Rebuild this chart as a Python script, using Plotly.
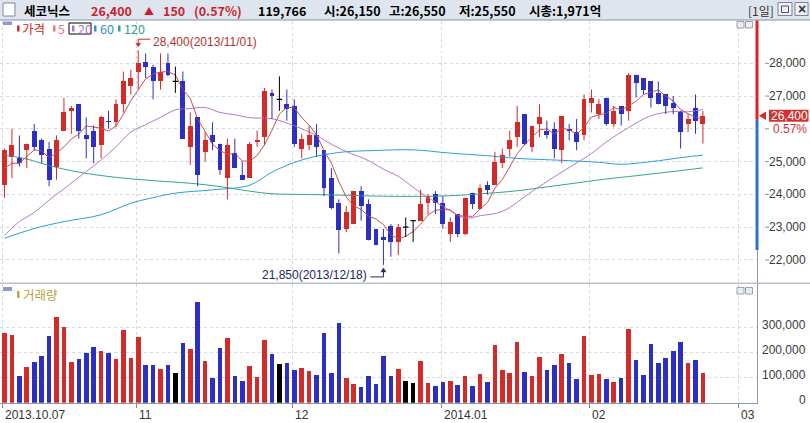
import plotly.graph_objects as go

W, H = 810, 423

# ---------------- data ----------------
tick_idx = [0, 18, 39, 59, 79, 99]
tick_text = ["2013.10.07", "11", "12", "2014.01", "02", "03"]

opens = [24300, 25150, 25100, 25350, 25950, 25650, 25400, 24850, 25950, 26550,
         26750, 25800, 25950, 25500, 26250, 26200, 26750, 27300, 27750, 28050,
         27900, 27450, 28000, 27450, 27450, 25450, 26350, 25300, 25800, 25550,
         24500, 25250, 24600, 24500, 25600, 25750, 27100, 26900, 26750, 26700,
         25400, 25500, 25800, 25350, 24500, 23750, 22950, 23100, 24100, 23700,
         22950, 22700, 23050, 22550, 23000, 23200, 23200, 23750, 24000, 23750,
         22800, 23400, 22800, 24050, 23550, 24300, 24300, 24950, 25400, 25750,
         26450, 25450, 26150, 25950, 26000, 25350, 26000, 25900, 25800, 26800,
         26450, 26950, 26150, 26700, 26550, 27650, 27550, 27450, 27100, 27050,
         26800, 26500, 26150, 26650, 26150]
highs = [25400, 26000, 25800, 25550, 26150, 25700, 25600, 25800, 26950, 26700,
         26750, 26350, 26100, 26400, 26550, 26900, 27750, 27800, 28400, 28300,
         27950, 28300, 28300, 27900, 27750, 26500, 26350, 25900, 26200, 25550,
         25700, 25700, 25000, 25600, 25950, 27250, 27200, 27600, 27200, 26900,
         25850, 26100, 26150, 25350, 24800, 23850, 23650, 24100, 24250, 23850,
         22950, 22950, 23100, 23100, 23300, 23200, 24150, 24000, 24100, 23950,
         23300, 23400, 23900, 24050, 24300, 24400, 25300, 25400, 25950, 26700,
         26450, 26100, 26750, 26250, 26200, 26400, 26150, 26300, 27050, 27200,
         26900, 26950, 26700, 26700, 27700, 27650, 27550, 27450, 27450, 27050,
         27000, 26550, 26450, 27050, 26550]
lows = [23900, 24500, 24850, 24800, 25350, 24950, 24250, 24450, 25950, 25850,
        25700, 25100, 24950, 25100, 26000, 26050, 26500, 27050, 27200, 27550,
        26900, 27200, 27600, 27100, 25700, 24900, 24250, 25000, 25350, 24600,
        23850, 24800, 24450, 24500, 25450, 25500, 26300, 26550, 26250, 25450,
        25100, 25350, 25150, 23950, 23550, 22200, 22850, 23100, 23200, 22600,
        22450, 21850, 22100, 22150, 22700, 22550, 23200, 23400, 23400, 22950,
        22550, 22700, 22750, 23550, 23550, 24000, 24300, 24800, 25150, 25450,
        25500, 25300, 25750, 25700, 25100, 24950, 25650, 25350, 25650, 26500,
        26300, 26100, 26050, 26100, 26250, 26950, 27050, 26650, 26750, 26450,
        26450, 25400, 25900, 25850, 25550]
closes = [25350, 25500, 24950, 25550, 25450, 25200, 24450, 25650, 26500, 26650,
          25950, 25700, 25450, 26350, 26200, 26750, 27450, 27550, 28000, 27900,
          27450, 27750, 27650, 27450, 25700, 26100, 24600, 25650, 25600, 24750,
          25500, 24800, 24450, 25550, 25650, 27150, 27000, 26900, 26600, 25550,
          25700, 25800, 25450, 24200, 23600, 22900, 23450, 24100, 23650, 22600,
          22450, 22600, 22550, 23000, 23000, 23200, 23700, 23950, 23750, 23100,
          23150, 22800, 23900, 23700, 24200, 24150, 25000, 25200, 25650, 26200,
          25550, 26100, 26350, 25800, 25400, 26400, 25950, 25600, 26900, 26950,
          26750, 26150, 26550, 26450, 27650, 27400, 27200, 26950, 26750, 26700,
          26650, 25900, 26300, 26250, 26400]
volumes = [278000, 269000, 106000, 142000, 163000, 185000, 265000, 341000, 300000, 161000,
           175000, 198000, 221000, 205000, 198000, 173000, 288000, 177000, 261000, 149000,
           149000, 134000, 149000, 118000, 238000, 213000, 399000, 165000, 98000, 217000,
           257000, 106000, 86000, 146000, 102000, 249000, 193000, 153000, 157000, 130000,
           138000, 127000, 110000, 276000, 118000, 316000, 98000, 74000, 62000, 106000,
           74000, 185000, 106000, 134000, 86000, 78000, 165000, 78000, 66000, 82000,
           86000, 70000, 106000, 66000, 114000, 82000, 229000, 130000, 118000, 241000,
           122000, 106000, 181000, 130000, 149000, 193000, 157000, 94000, 265000, 110000,
           114000, 94000, 82000, 98000, 292000, 169000, 110000, 233000, 157000, 177000,
           205000, 241000, 157000, 169000, 119766]

ma5 = [24800, 24950, 24950, 25150, 25360, 25330, 25120, 25260, 25450, 25690,
       25840, 26090, 26050, 26020, 25930, 26090, 26440, 26860, 27190, 27530,
       27670, 27730, 27750, 27640, 27200, 26930, 26300, 25900, 25530, 25340,
       25220, 25260, 25020, 25010, 25190, 25520, 25960, 26450, 26660, 26640,
       26350, 26110, 25820, 25340, 24950, 24390, 23920, 23650, 23540, 23340,
       23250, 23080, 22770, 22640, 22720, 22870, 23090, 23370, 23520, 23540,
       23530, 23350, 23340, 23330, 23550, 23750, 24190, 24450, 24840, 25240,
       25520, 25740, 25970, 26000, 25840, 26010, 25980, 25830, 26050, 26360,
       26430, 26470, 26660, 26570, 26710, 26840, 27050, 27130, 27190, 27000,
       26850, 26590, 26460, 26360, 26300]

ma20_idx = [0, 2, 4, 6, 8, 11, 13, 15, 17, 19, 21, 23, 25, 27, 29, 31, 33, 36, 39,
            42, 44, 46, 49, 51, 53, 56, 59, 62, 64, 67, 71, 74, 76, 79, 81, 84,
            87, 90, 92, 94]
ma20_val = [22750, 23170, 23450, 23830, 24170, 24700, 25050, 25450, 25900, 26130,
            26350, 26580, 26620, 26650, 26500, 26430, 26340, 26310, 26090, 25800,
            25530, 25310, 25030, 24770, 24550, 24050, 23640, 23280, 23350, 23480,
            24090, 24540, 24820, 25250, 25600, 26040, 26400, 26530, 26520, 26590]

ma60_idx = [0, 4, 8, 13, 17, 20, 23, 28, 33, 36, 40, 45, 50, 55, 60, 65, 69, 75,
            80, 83, 87, 91, 94]
ma60_val = [22660, 22960, 23170, 23380, 23730, 23900, 24040, 24140, 24280, 24680,
            25050, 25280, 25340, 25360, 25260, 25180, 25100, 25040, 24980, 24920,
            25000, 25120, 25200]

ma120_idx = [0, 3, 6, 10, 15, 20, 25, 29, 33, 36, 40, 45, 50, 55, 60, 63, 66, 69,
             72, 76, 81, 85, 90, 94]
ma120_val = [25200, 25080, 24880, 24680, 24520, 24420, 24340, 24240, 24100, 24020,
             24000, 23980, 23950, 23940, 23960, 24000, 24050, 24110, 24200, 24320,
             24470, 24570, 24700, 24810]

price_ticks = [22000, 23000, 24000, 25000, 26000, 27000, 28000]
price_labels = ["22,000", "23,000", "24,000", "25,000", "", "27,000", "28,000"]  # 26,000 is hidden under the % tag
vol_ticks = [0, 100000, 200000, 300000]

high_note = (18, 28400, "28,400(2013/11/01)")
low_note = (51, 21850, "21,850(2013/12/18)")
last_price = 26400

header_items = [
    (23, "세코닉스", "#000000", True),
    (90, "26,400", "#cc1f2f", True),
    (143, "▲", "#cc1f2f", False),
    (162, "150", "#cc1f2f", True),
    (193, "(0.57%)", "#cc1f2f", True),
    (257, "119,766", "#000000", True),
    (323, "시:26,150", "#000000", True),
    (388, "고:26,550", "#000000", True),
    (458, "저:25,550", "#000000", True),
    (528, "시총:1,971억", "#000000", True),
]
legend_items = [(17, 21, "가격", "#cc2a2a"), (53, 57, "5", "#e07a7a"),
                (72, 77, "20", "#b070c8"), (94, 99, "60", "#2a90d8"),
                (118, 123, "120", "#2fa08a")]

# ---------------- styling ----------------
RED, BLUE, BLACK = "#d42a2a", "#2c2fc4", "#000000"
C_MA5, C_MA20, C_MA60, C_MA120 = "#c9504f", "#b578c8", "#2a9fd6", "#34a48c"
GRID = "#d3d8e1"
AXLINE = "#9099a8"
NUMFONT = "Liberation Sans"
KRFONT = "Noto Sans CJK KR"

X_RIGHT = 757.0
PRICE_TOP, PRICE_BOT = 20.5, 283.0
VOL_TOP, VOL_BOT = 283.5, 402.7


def PX(x):
    return x / W


def PY(y):
    return 1 - y / H


n = len(closes)
idx = list(range(n))
cols = [RED if c > o else (BLUE if c < o else BLACK) for o, c in zip(opens, closes)]

fig = go.Figure()

# moving averages
fig.add_trace(go.Scatter(x=ma120_idx, y=ma120_val, mode="lines", line=dict(color=C_MA120, width=1, shape="spline"), hoverinfo="skip"))
fig.add_trace(go.Scatter(x=ma60_idx, y=ma60_val, mode="lines", line=dict(color=C_MA60, width=1, shape="spline"), hoverinfo="skip"))
fig.add_trace(go.Scatter(x=ma20_idx, y=ma20_val, mode="lines", line=dict(color=C_MA20, width=1, shape="spline"), hoverinfo="skip"))
fig.add_trace(go.Scatter(x=idx, y=ma5, mode="lines", line=dict(color=C_MA5, width=1), hoverinfo="skip"))

# wicks
for col in (RED, BLUE, BLACK):
    xs, ys = [], []
    for i in idx:
        if cols[i] == col:
            xs += [i, i, None]
            ys += [lows[i], highs[i], None]
    fig.add_trace(go.Scatter(x=xs, y=ys, mode="lines", line=dict(color=col, width=1), hoverinfo="skip"))

# bodies
bx, bb, bh, bc = [], [], [], []
for i in idx:
    if cols[i] != BLACK:
        bx.append(i)
        bb.append(min(opens[i], closes[i]))
        bh.append(abs(closes[i] - opens[i]))
        bc.append(cols[i])
fig.add_trace(go.Bar(x=bx, y=bh, base=bb, width=0.66, marker=dict(color=bc, line=dict(width=0)), hoverinfo="skip"))

# doji
dx, dy = [], []
for i in idx:
    if cols[i] == BLACK:
        dx += [i - 0.36, i + 0.36, None]
        dy += [opens[i], opens[i], None]
fig.add_trace(go.Scatter(x=dx, y=dy, mode="lines", line=dict(color=BLACK, width=1.2), hoverinfo="skip"))

# volume
fig.add_trace(go.Bar(x=idx, y=volumes, width=0.62, marker=dict(color=cols, line=dict(width=0)),
                     xaxis="x2", yaxis="y2", hoverinfo="skip"))

xr = [(0 - 4.5) / 7.43, (X_RIGHT - 4.5) / 7.43]
tickpos = [t - 0.25 for t in tick_idx]
common_x = dict(range=xr, domain=[0, X_RIGHT / W], tickmode="array", tickvals=tickpos,
                showticklabels=False, showgrid=True, gridcolor=GRID, griddash="dot",
                gridwidth=1, zeroline=False, fixedrange=True)

fig.update_layout(
    width=W, height=H, margin=dict(l=0, r=0, t=0, b=0),
    paper_bgcolor="white", plot_bgcolor="white", showlegend=False,
    barmode="overlay", bargap=0,
    xaxis=dict(anchor="y", ticks="", showline=False, **common_x),
    xaxis2=dict(anchor="y2", ticks="outside", ticklen=4, tickcolor="#7a8290",
                showline=True, linecolor=AXLINE, linewidth=1, **common_x),
    yaxis=dict(domain=[PY(PRICE_BOT), PY(PRICE_TOP)],
               range=[28000 - (PRICE_BOT - 63.3) / 0.03278, 28000 + (63.3 - PRICE_TOP) / 0.03278],
               side="right", anchor="x", tickmode="array", tickvals=price_ticks,
               showticklabels=False, ticks="", showgrid=True, gridcolor=GRID, griddash="dot",
               zeroline=False, showline=True, linecolor=AXLINE, linewidth=1, fixedrange=True),
    yaxis2=dict(domain=[PY(VOL_BOT), PY(VOL_TOP)], range=[0, (VOL_BOT - VOL_TOP) / 25.2 * 100000],
                side="right", anchor="x2", tickmode="array", tickvals=vol_ticks[1:],
                showticklabels=False, ticks="", showgrid=True, gridcolor=GRID, griddash="dot",
                zeroline=False, showline=True, linecolor=AXLINE, linewidth=1, fixedrange=True),
)

shapes = []
ann = []


def rect(x0, y0, x1, y1, fill=None, line=None, lw=1):
    shapes.append(dict(type="rect", xref="paper", yref="paper", x0=PX(x0), x1=PX(x1),
                       y0=PY(y1), y1=PY(y0), fillcolor=fill or "rgba(0,0,0,0)",
                       line=dict(color=line or "rgba(0,0,0,0)", width=lw if line else 0),
                       layer="above"))


def hline(x0, x1, y, color, w=1):
    shapes.append(dict(type="line", xref="paper", yref="paper", x0=PX(x0), x1=PX(x1),
                       y0=PY(y), y1=PY(y), line=dict(color=color, width=w), layer="above"))


def text(x, y, s, color="#333", size=12, family=NUMFONT, xanchor="left", bold=False, bg=None):
    if bold:
        s = "<b>" + s + "</b>"
    ann.append(dict(x=PX(x), y=PY(y), xref="paper", yref="paper", text=s, showarrow=False,
                    xanchor=xanchor, yanchor="middle", font=dict(family=family, size=size, color=color),
                    bgcolor=bg, borderpad=0))


# header
rect(0, 0, W, 20, fill="#dfe5ef")
hline(0, W, 20, "#8893a8")
rect(3, 3, 15, 16, fill="white", line="#7f8898")
for x, s, c, b in header_items:
    text(x, 10, s, color=c, size=12.5 if b else 10, family=KRFONT, bold=b)
text(747, 10, "[1일]", color="#333", size=12, family=KRFONT)
rect(778, 2.5, 792, 15.5, fill="#eef1f6", line="#7a8496")
rect(781.5, 6, 788.5, 12.5, line="#4a5060")
rect(795, 2.5, 808, 15.5, fill="#eef1f6", line="#7a8496")
text(801.5, 9, "×", color="#333", size=14, family=NUMFONT, xanchor="center", bold=True)

# panel separator
hline(0, W, 283.2, "#9aa3b3")

# legends
rect(3, 21.5, 12, 25, fill="#8d9cc4")
for bxp, tx, s, c in legend_items:
    rect(bxp, 25.5, bxp + 2.5, 31.5, fill=c)
    text(tx, 28.5, s, color=c, size=12.5, family=KRFONT)
rect(69, 23, 91, 34, line="#000000")
rect(3, 287, 12, 291, fill="#8d9cc4")
rect(17, 291, 19.5, 298, fill="#c0a848")
text(22, 294.5, "거래량", color="#b9a040", size=12.5, family=KRFONT)

# little panel buttons
for yy in (21.5, 287.5):
    rect(737, yy, 744, yy + 6.5, fill="#e8ebf0", line="#9aa2b0")
    rect(745.5, yy, 752.5, yy + 6.5, fill="#e8ebf0", line="#9aa2b0")

# price labels
for p, lab in zip(price_ticks, price_labels):
    if lab:
        ann.append(dict(x=PX(808), y=p, xref="paper", yref="y", text=lab, showarrow=False,
                        xanchor="right", yanchor="middle", font=dict(family=NUMFONT, size=12, color="#3a3a3a")))
    shapes.append(dict(type="line", xref="paper", yref="y", x0=PX(765), x1=PX(769), y0=p, y1=p,
                       line=dict(color="#8a909a", width=1)))
for v in vol_ticks:
    ann.append(dict(x=PX(808), y=v, xref="paper", yref="y2", text=f"{v:,}", showarrow=False,
                    xanchor="right", yanchor="middle", yshift=2.5,
                    font=dict(family=NUMFONT, size=12, color="#3a3a3a")))

# x labels
for t, s in zip(tickpos, tick_text):
    ann.append(dict(x=t, y=PY(415), xref="x2", yref="paper", text=s, showarrow=False,
                    xanchor="left", yanchor="middle", xshift=0.5,
                    font=dict(family=NUMFONT, size=12, color="#333")))

# range bar on price axis
ylast = 63.3 + (28000 - last_price) * 0.03278
rect(755.5, PRICE_TOP, 758.5, ylast + 4, fill="#e3201c")
rect(755.5, ylast + 4, 758.5, 250, fill="#2f72d2")

# last price marker
shapes.append(dict(type="path", xref="paper", yref="y",
                   path=f"M {PX(759)},{last_price} L {PX(766)},{last_price + 130} L {PX(766)},{last_price - 130} Z",
                   fillcolor="#d42a2a", line=dict(width=0)))
rect(769, ylast - 6, 808.5, ylast + 6, fill="#d03232")
ann.append(dict(x=PX(789), y=last_price, xref="paper", yref="y", text="26,400", showarrow=False,
                xanchor="center", yanchor="middle", font=dict(family=NUMFONT, size=12, color="white")))
text(808, ylast + 13.5, "0.57%", color="#d03232", size=12, xanchor="right")

# high / low notes
hi_i, hi_p, hi_s = high_note
shapes.append(dict(type="path", xref="x", yref="y", xsizemode="pixel", ysizemode="pixel",
                   xanchor=hi_i, yanchor=hi_p, path="M 0,11 L 0,6 M 0,11 L 12,11",
                   line=dict(color="#b5332e", width=1)))
shapes.append(dict(type="path", xref="x", yref="y", xsizemode="pixel", ysizemode="pixel",
                   xanchor=hi_i, yanchor=hi_p, path="M -2.5,7 L 2.5,7 L 0,3.5 Z",
                   fillcolor="#b5332e", line=dict(color="#b5332e", width=0.5)))
ann.append(dict(x=hi_i, y=hi_p, xref="x", yref="y", text=hi_s, showarrow=False, xanchor="left",
                yanchor="middle", xshift=13, yshift=8.5,
                font=dict(family=NUMFONT, size=12, color="#b5332e")))
lo_i, lo_p, lo_s = low_note
shapes.append(dict(type="path", xref="x", yref="y", xsizemode="pixel", ysizemode="pixel",
                   xanchor=lo_i, yanchor=lo_p, path="M 0,-12 L 0,-6 M 0,-12 L -13,-12",
                   line=dict(color="#23256a", width=1)))
shapes.append(dict(type="path", xref="x", yref="y", xsizemode="pixel", ysizemode="pixel",
                   xanchor=lo_i, yanchor=lo_p, path="M -2.5,-7 L 2.5,-7 L 0,-3 Z",
                   fillcolor="#23256a", line=dict(color="#23256a", width=0.5)))
ann.append(dict(x=lo_i, y=lo_p, xref="x", yref="y", text=lo_s, showarrow=False, xanchor="right",
                yanchor="middle", xshift=-14, yshift=-10,
                font=dict(family=NUMFONT, size=12, color="#23256a")))

fig.update_layout(shapes=shapes, annotations=ann)
fig.write_html("out.html", config={"displayModeBar": False, "staticPlot": True},
               post_script="document.body.style.margin='0px';document.body.style.overflow='hidden';")
